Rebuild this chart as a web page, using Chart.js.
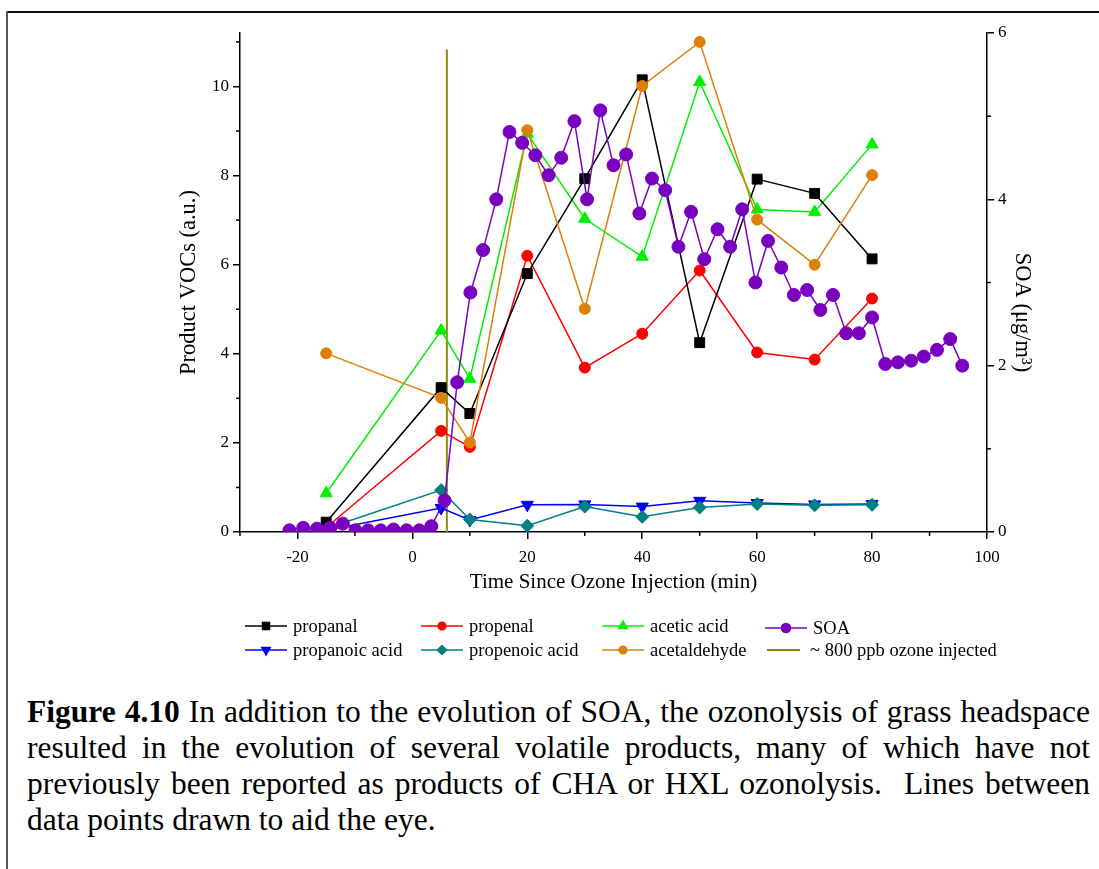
<!DOCTYPE html>
<html>
<head>
<meta charset="utf-8">
<script src="https://cdn.jsdelivr.net/npm/chart.js@4/dist/chart.umd.min.js"></script>
<style>
  body { margin: 0; background: #fff; }
  #wrap { position: relative; width: 1099px; height: 869px; overflow: hidden; }
  #frame-top { position: absolute; left: 6px; top: 11px; width: 1093px; height: 2px; background: #111; }
  #frame-left { position: absolute; left: 6px; top: 11px; width: 2px; height: 858px; background: #555; }
  #c { position: absolute; left: 0; top: 0; }
  #caption {
    position: absolute; left: 27px; top: 694px; width: 1063px;
    font-family: 'Liberation Serif', 'Times New Roman', serif;
    font-size: 31.5px; line-height: 36px; text-align: justify; color: #000;
  }
</style>
</head>
<body>
<div id="wrap">
  <div id="frame-top"></div>
  <div id="frame-left"></div>
  <canvas id="c" width="1099" height="680"></canvas>
  <div id="caption"><b>Figure 4.10</b> In addition to the evolution of SOA, the ozonolysis of grass headspace resulted in the evolution of several volatile products, many of which have not previously been reported as products of CHA or HXL ozonolysis.&nbsp; Lines between data points drawn to aid the eye.</div>
</div>
<script>
// sampling times of the product VOCs (min)
const vocTime = [-15, 5, 10, 20, 30, 40, 50, 60, 70, 80];
const propanal      = [0.22, 3.24, 2.66, 5.80, 7.93, 10.15, 4.25, 7.92, 7.60, 6.13];
const propenal      = [0.10, 2.27, 1.91, 6.20, 3.69, 4.45, 5.87, 4.03, 3.87, 5.24];
const aceticAcid    = [0.87, 4.52, 3.44, 8.94, 7.03, 6.18, 10.10, 7.24, 7.18, 8.70];
const propanoicAcid = [0.04, 0.54, 0.27, 0.61, 0.62, 0.57, 0.70, 0.65, 0.62, 0.63];
const propenoicAcid = [0.08, 0.94, 0.28, 0.14, 0.57, 0.34, 0.55, 0.63, 0.60, 0.61];
const acetaldehyde  = [4.01, 3.01, 2.01, 9.02, 5.01, 10.01, 11.00, 7.01, 6.00, 8.01];

// SOA mass (right axis)
const soaTime = [-21.4, -19.0, -16.6, -14.3, -12.1, -9.9, -7.7, -5.5, -3.3, -1.0,
  1.2, 3.3, 5.6, 7.8, 10.1, 12.3, 14.6, 16.9, 19.1, 21.4,
  23.7, 25.9, 28.2, 30.4, 32.7, 35.0, 37.2, 39.5, 41.7, 44.0,
  46.3, 48.5, 50.8, 53.1, 55.3, 57.4, 59.7, 61.9, 64.2, 66.4,
  68.7, 71.0, 73.2, 75.5, 77.7, 80.0, 82.3, 84.5, 86.8, 89.0,
  91.3, 93.6, 95.7];
const soaMass = [0.02, 0.05, 0.04, 0.05, 0.10, 0.02, 0.02, 0.02, 0.03, 0.02,
  0.02, 0.07, 0.38, 1.80, 2.88, 3.39, 4.00, 4.81, 4.68, 4.53,
  4.29, 4.50, 4.94, 4.00, 5.07, 4.41, 4.54, 3.83, 4.25, 4.11,
  3.43, 3.85, 3.28, 3.64, 3.43, 3.88, 3.00, 3.50, 3.18, 2.85,
  2.91, 2.67, 2.85, 2.39, 2.39, 2.58, 2.02, 2.04, 2.06, 2.11,
  2.19, 2.32, 2.00];

// ozone injection marker
const ozoneTime = [6, 6];
const ozoneLevel = [0, 10.83];

// tick labels
const xTicks = [-20, 0, 20, 40, 60, 80, 100];
const xMinor = [-30, -10, 10, 30, 50, 70, 90];
const yTicks = [0, 2, 4, 6, 8, 10];
const yMinor = [1, 3, 5, 7, 9, 11];
const y2Ticks = [0, 2, 4, 6];
const y2Minor = [1, 3, 5];

const pts = (xs, ys) => xs.map((x, i) => ({x: x, y: ys[i]}));

function series(label, xs, ys, color, style, radius, rot, axis) {
  return {
    label: label,
    data: pts(xs, ys),
    borderColor: color,
    backgroundColor: color,
    borderWidth: 1.5,
    pointStyle: style,
    pointRadius: radius,
    pointHoverRadius: radius,
    pointRotation: rot || 0,
    pointBorderWidth: 1,
    yAxisID: axis || 'y',
    tension: 0
  };
}

const datasets = [
  series('SOA', soaTime, soaMass, '#7a00bf', 'circle', 6.5, 0, 'y2'),
  series('acetaldehyde', vocTime, acetaldehyde, '#dc800a', 'circle', 5.5),
  series('propanal', vocTime, propanal, '#000000', 'rect', 7),
  series('acetic acid', vocTime, aceticAcid, '#00f000', 'triangle', 7),
  series('propenal', vocTime, propenal, '#ff0000', 'circle', 5.5),
  series('propenoic acid', vocTime, propenoicAcid, '#008080', 'rectRot', 6.5),
  series('propanoic acid', vocTime, propanoicAcid, '#0000ff', 'triangle', 7, 180),
  Object.assign(series('~ 800 ppb ozone injected', ozoneTime, ozoneLevel, '#8c8a16', 'circle', 0), {borderWidth: 2})
];

// legend slots: [label, x of line start, row y]
const legendSlots = [
  ['propanal', 245, 626], ['propenal', 421, 626], ['acetic acid', 602, 626], ['SOA', 765, 628],
  ['propanoic acid', 245, 650], ['propenoic acid', 421, 650], ['acetaldehyde', 602, 650], ['~ 800 ppb ozone injected', 767, 650]
];

const minorTicks = {
  id: 'minorTicks',
  afterDraw(chart) {
    const ctx = chart.ctx;
    ctx.save();
    ctx.strokeStyle = '#000';
    ctx.lineWidth = 1.5;
    const sx = chart.scales.x, sy = chart.scales.y, sy2 = chart.scales.y2;
    xMinor.forEach(v => {
      const p = sx.getPixelForValue(v);
      ctx.beginPath(); ctx.moveTo(p, sx.top); ctx.lineTo(p, sx.top + 4); ctx.stroke();
    });
    yMinor.forEach(v => {
      const p = sy.getPixelForValue(v);
      ctx.beginPath(); ctx.moveTo(sy.right, p); ctx.lineTo(sy.right - 4, p); ctx.stroke();
    });
    y2Minor.forEach(v => {
      const p = sy2.getPixelForValue(v);
      ctx.beginPath(); ctx.moveTo(sy2.left, p); ctx.lineTo(sy2.left + 4, p); ctx.stroke();
    });
    // right axis title sits a bit below the axis middle in the original
    ctx.font = "22.5px 'Liberation Serif'";
    ctx.fillStyle = '#000';
    ctx.textAlign = 'center';
    ctx.textBaseline = 'middle';
    ctx.translate(sy2.left + 35, (sy2.top + sy2.bottom) / 2 + 30);
    ctx.rotate(Math.PI / 2);
    ctx.fillText('SOA (μg/m³)', 0, 0);
    ctx.restore();
  }
};

const legendBox = {
  id: 'legendBox',
  afterDraw(chart) {
    const ctx = chart.ctx;
    ctx.save();
    ctx.font = "18.5px 'Liberation Serif'";
    ctx.textBaseline = 'middle';
    ctx.fillStyle = '#000';
    legendSlots.forEach(([label, x0, y]) => {
      const ds = chart.data.datasets.find(d => d.label === label);
      const isOzone = ds.pointRadius === 0;
      const len = isOzone ? 33 : 42;
      ctx.strokeStyle = ds.borderColor;
      ctx.lineWidth = isOzone ? 2 : 1.5;
      ctx.beginPath(); ctx.moveTo(x0, y); ctx.lineTo(x0 + len, y); ctx.stroke();
      if (!isOzone) {
        ctx.fillStyle = ds.backgroundColor;
        Chart.helpers.drawPoint(ctx, {
          pointStyle: ds.pointStyle, radius: ds.pointRadius * 0.7,
          rotation: ds.pointRotation, borderWidth: 1
        }, x0 + len / 2, y);
      }
      ctx.fillStyle = '#000';
      ctx.fillText(label, x0 + len + (isOzone ? 10 : 6), y + 1);
    });
    ctx.restore();
  }
};

Chart.defaults.font.family = "'Liberation Serif', 'Times New Roman', serif";
Chart.defaults.color = '#000';

new Chart(document.getElementById('c'), {
  type: 'line',
  data: {datasets: datasets},
  options: {
    responsive: false,
    animation: false,
    layout: {padding: {left: 170, right: 57, top: 33, bottom: 78}},
    plugins: {legend: {display: false}, tooltip: {enabled: false}},
    scales: {
      x: {
        type: 'linear', min: -30, max: 100,
        afterBuildTicks: s => { s.ticks = xTicks.map(v => ({value: v})); },
        afterFit: s => { s.height = 70; },
        grid: {drawOnChartArea: false, drawTicks: true, tickLength: 7, color: '#000', lineWidth: 1.5},
        border: {display: true, color: '#000', width: 1.5},
        ticks: {font: {size: 17}, padding: 8, maxRotation: 0},
        title: {display: true, text: 'Time Since Ozone Injection (min)', font: {size: 21}, padding: {top: 2, bottom: 7}}
      },
      y: {
        type: 'linear', position: 'left', min: 0, max: 11.2,
        afterBuildTicks: s => { s.ticks = yTicks.map(v => ({value: v})); },
        afterFit: s => { s.width = 70; },
        grid: {drawOnChartArea: false, drawTicks: true, tickLength: 7, color: '#000', lineWidth: 1.5},
        border: {display: true, color: '#000', width: 1.5},
        ticks: {font: {size: 17}, padding: 4},
        title: {display: true, text: 'Product VOCs (a.u.)', font: {size: 22.5}, padding: {top: 6, bottom: 2}}
      },
      y2: {
        type: 'linear', position: 'right', min: 0, max: 6,
        afterBuildTicks: s => { s.ticks = y2Ticks.map(v => ({value: v})); },
        afterFit: s => { s.width = 55; },
        grid: {drawOnChartArea: false, drawTicks: true, tickLength: 7, color: '#000', lineWidth: 1.5},
        border: {display: true, color: '#000', width: 1.5},
        ticks: {font: {size: 17}, padding: 4},
        title: {display: false}
      }
    }
  },
  plugins: [minorTicks, legendBox]
});
</script>
</body>
</html>
